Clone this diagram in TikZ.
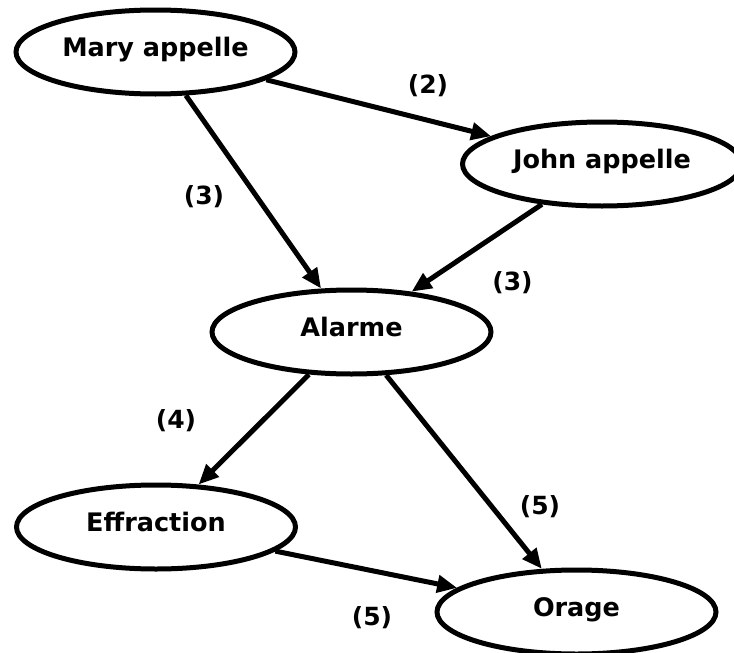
\documentclass[tikz,border=0pt]{standalone}
\usepackage{fontspec}
\setmainfont{DejaVu Sans}
\usetikzlibrary{shapes.geometric,arrows.meta}
\begin{document}
\begin{tikzpicture}[x=1pt,y=-1pt,
  state/.style={ellipse, draw=black, line width=5pt, minimum width=279pt, minimum height=84pt,
    inner sep=0pt, text height=12pt, text depth=4pt, font=\fontsize{25.5}{30}\selectfont\bfseries},
  edge/.style={line width=5pt, -{Triangle[length=20pt,width=17pt]}},
  lab/.style={inner sep=0pt, font=\fontsize{25}{30}\selectfont\bfseries}]
\clip (0,0) rectangle (734,653);
\node[state] (mary) at (155.5,52) {Mary appelle};
\node[state] (john) at (602,164) {John appelle};
\node[state] (alarme) at (351.5,332) {Alarme};
\node[state] (effraction) at (156,527) {Effraction};
\node[state] (orage) at (576.5,612) {Orage};
\draw[edge] (mary) -- (john);
\draw[edge] (mary) -- (alarme);
\draw[edge] (john) -- (alarme);
\draw[edge] (alarme) -- (effraction);
\draw[edge] (alarme) -- (orage);
\draw[edge] (effraction) -- (orage);
\node[lab] (l2) at (428,85.5) {(2)};
\node[lab] (l3a) at (204,197) {(3)};
\node[lab] (l3b) at (512.5,283) {(3)};
\node[lab] (l4) at (176,421) {(4)};
\node[lab] (l5a) at (540,507) {(5)};
\node[lab] (l5b) at (372,618) {(5)};
\end{tikzpicture}
\end{document}
